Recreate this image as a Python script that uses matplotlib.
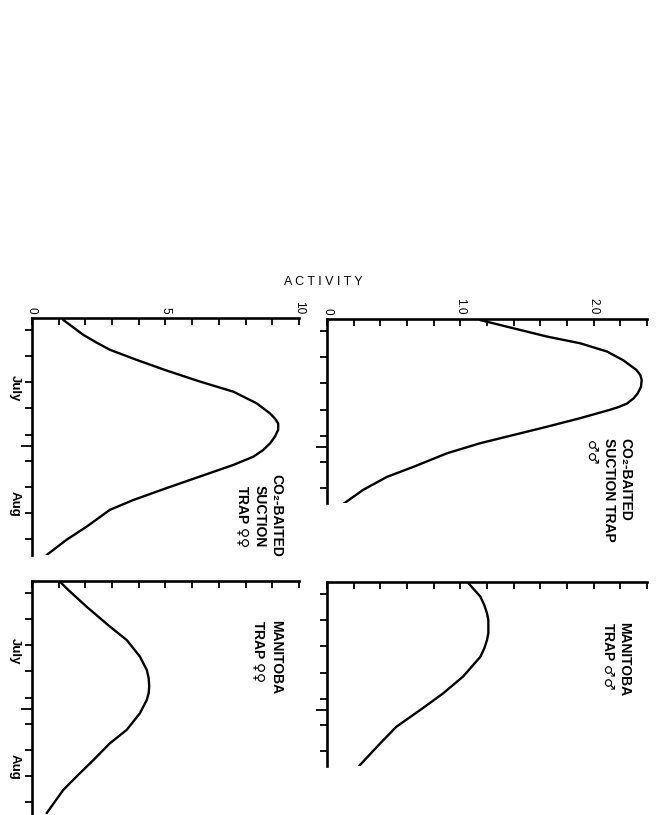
import numpy as np
import matplotlib.pyplot as plt
from matplotlib.ticker import FixedLocator, MultipleLocator, NullFormatter
import matplotlib.transforms as mtransforms

plt.rcParams['font.family'] = ['Liberation Sans', 'DejaVu Sans']

fco2_days = [-2.7, 1.3, 3.3, 5.3, 8.0, 10.7, 13.8, 16.5, 19.6, 22.3, 23.7, 25.0,
             26.7, 28.5, 30.3, 32.1, 33.9, 36.1, 39.2, 42.3, 45.5, 48.1, 52.6,
             56.1, 60.2]
fco2_act = [1.17, 1.92, 2.40, 2.92, 3.92, 4.98, 6.29, 7.54, 8.41, 8.91, 9.10, 9.22,
            9.22, 9.10, 8.92, 8.66, 8.29, 7.54, 6.29, 5.04, 3.79, 2.92, 2.05,
            1.30, 0.55]

mco2_days = [-2.9, 1.5, 3.3, 5.5, 7.8, 10.4, 11.8, 13.1, 14.9, 16.7, 18.0,
             19.4, 20.3, 21.1, 23.3, 25.6, 27.8, 30.0, 32.7, 36.3, 39.0, 42.5, 46.3]
mco2_act = [1.15, 1.65, 1.90, 2.10, 2.22, 2.32, 2.35, 2.36, 2.355, 2.33, 2.30,
            2.25, 2.19, 2.12, 1.90, 1.65, 1.40, 1.15, 0.90, 0.65, 0.45, 0.27, 0.12]

fman_days = [-3.0, -0.8, 3.7, 9.0, 12.6, 17.0, 20.6, 22.8, 25.0, 26.8, 28.6,
             32.2, 36.6, 40.2, 44.7, 49.1, 52.7, 58.9]
fman_act = [1.05, 1.36, 2.05, 2.92, 3.55, 4.04, 4.30, 4.37, 4.39, 4.37, 4.30,
            4.04, 3.55, 2.92, 2.30, 1.67, 1.17, 0.55]

mman_days = [-2.9, 0.7, 3.0, 5.2, 7.0, 8.7, 10.5, 12.3, 14.5, 16.8, 22.1,
             26.6, 31.0, 35.5, 39.9, 46.2]
mman_act = [1.06, 1.15, 1.18, 1.20, 1.21, 1.21, 1.21, 1.20, 1.18, 1.15, 1.02,
            0.87, 0.70, 0.52, 0.40, 0.235]

months = ['July', 'Aug']
month_mid = [15.5, 46.5]
aug_first = 31
week_ticks = np.arange(0, 57, 7)

fig = plt.figure(figsize=(6.58, 8.15), dpi=100)


def make_panel(rect, days, act, xmax, major, labels, step, dmax, show_labels, months_on):
    ax = fig.add_axes(rect)
    ax.plot(act, days, color='black', lw=1.7, solid_capstyle='round',
            solid_joinstyle='round')
    ax.set_xlim(0, xmax)
    ax.set_ylim(dmax, -3.2)
    for s in ['right', 'bottom']:
        ax.spines[s].set_visible(False)
    for s in ['top', 'left']:
        ax.spines[s].set_linewidth(1.9)
    # activity axis along the top
    ax.xaxis.tick_top()
    ax.xaxis.set_major_locator(FixedLocator(major))
    ax.xaxis.set_minor_locator(MultipleLocator(step))
    if show_labels:
        ax.set_xticklabels(labels)
    else:
        ax.xaxis.set_major_formatter(NullFormatter())
    ax.tick_params(axis='x', which='both', direction='in', length=5, width=1.3,
                   labelsize=8.5, labelrotation=-90, pad=3)
    # time axis on the left: weekly ticks, longer one at 1 Aug
    ax.yaxis.set_major_locator(FixedLocator(week_ticks))
    ax.yaxis.set_minor_locator(FixedLocator([aug_first]))
    ax.yaxis.set_major_formatter(NullFormatter())
    ax.tick_params(axis='y', which='major', direction='out', length=5, width=1.3)
    ax.tick_params(axis='y', which='minor', direction='out', length=8, width=1.3)
    if months_on:
        trans = mtransforms.blended_transform_factory(ax.transAxes, ax.transData)
        for m, d in zip(months, month_mid):
            ax.text(-0.064, d, m, transform=trans, rotation=-90, ha='center',
                    va='center', fontsize=9.5, fontweight='bold')
    return ax


ax1 = make_panel([0.0486, 0.319, 0.4058, 0.2908], fco2_days, fco2_act, 10,
                 [0, 5, 10], ['0', '5', '10'], 1, 60.2, True, True)
ax2 = make_panel([0.497, 0.3828, 0.4863, 0.2258], mco2_days, mco2_act, 2.4,
                 [0, 1, 2], ['0', '1.0', '2.0'], 0.2, 46.0, True, False)
ax3 = make_panel([0.0486, -0.0037, 0.4058, 0.2908], fman_days, fman_act, 10,
                 [0, 5, 10], ['0', '5', '10'], 1, 60.2, False, True)
ax4 = make_panel([0.497, 0.0601, 0.4863, 0.2258], mman_days, mman_act, 2.4,
                 [0, 1, 2], ['0', '1.0', '2.0'], 0.2, 46.0, False, False)

# sex symbols go through mathtext so they come out in DejaVu at full size
fem = '$\\mathrm{\u2640\u2640}$'
mal = '$\\mathrm{\u2642\u2642}$'

tkw = dict(rotation=-90, fontsize=10, fontweight='bold', linespacing=1.2)
ax1.text(0.94, 0.165, 'CO\u2082-BAITED\nSUCTION\nTRAP ' + fem, transform=ax1.transAxes,
         ha='right', va='center', multialignment='center', **tkw)
ax2.text(0.953, 0.353, 'CO\u2082-BAITED\nSUCTION TRAP\n' + mal, transform=ax2.transAxes,
         ha='right', va='top', multialignment='left', **tkw)
ax3.text(0.94, 0.835, 'MANITOBA\nTRAP ' + fem, transform=ax3.transAxes,
         ha='right', va='top', multialignment='left', **tkw)
ax4.text(0.95, 0.783, 'MANITOBA\nTRAP ' + mal, transform=ax4.transAxes,
         ha='right', va='top', multialignment='left', **tkw)

fig.text(0.491, 0.654, 'A C T I V I T Y', ha='center', va='center', fontsize=9)

fig.savefig('out.png', dpi=100)
